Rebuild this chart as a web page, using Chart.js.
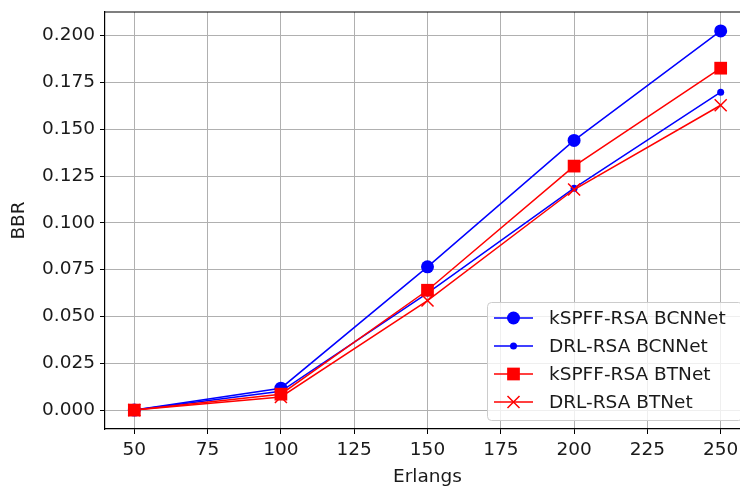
<!DOCTYPE html>
<html>
<head>
<meta charset="utf-8">
<script src="https://cdn.jsdelivr.net/npm/chart.js@4"></script>
<style>
html,body{margin:0;padding:0;overflow:hidden;background:#fff;}
#wrap{width:760px;height:488px;}
</style>
</head>
<body>
<div id="wrap"><canvas id="c" width="760" height="488"></canvas></div>
<script>
const erlangs = [50, 100, 150, 200, 250];
const kspffBCNNet = [0, 0.0117, 0.0765, 0.1440, 0.2025];
const drlBCNNet = [0, 0.0100, 0.0625, 0.1185, 0.1698];
const kspffBTNet = [0, 0.0085, 0.0640, 0.1303, 0.1826];
const drlBTNet = [0, 0.0070, 0.0585, 0.1178, 0.1628];
const seriesNames = ["kSPFF-RSA BCNNet", "DRL-RSA BCNNet", "kSPFF-RSA BTNet", "DRL-RSA BTNet"];
const xTickValues = [50, 75, 100, 125, 150, 175, 200, 225, 250];
const yTickValues = [0, 0.025, 0.05, 0.075, 0.1, 0.125, 0.15, 0.175, 0.2];

const FONT = "'DejaVu Sans', sans-serif";
const FS = 18.5;
const toPts = arr => arr.map((v, i) => ({x: erlangs[i], y: v}));

const styles = [
  {color: '#0000ff', pointStyle: 'circle', radius: 6.5},
  {color: '#0000ff', pointStyle: 'circle', radius: 3.5},
  {color: '#ff0000', pointStyle: 'rect', radius: 9},
  {color: '#ff0000', pointStyle: 'crossRot', radius: 8.5}
];
const seriesData = [kspffBCNNet, drlBCNNet, kspffBTNet, drlBTNet];

const datasets = seriesData.map((d, i) => ({
  label: seriesNames[i],
  data: toPts(d),
  borderColor: styles[i].color,
  backgroundColor: styles[i].color,
  pointBackgroundColor: styles[i].color,
  pointBorderColor: styles[i].color,
  pointStyle: styles[i].pointStyle,
  pointRadius: styles[i].radius,
  pointHoverRadius: styles[i].radius,
  pointBorderWidth: styles[i].pointStyle === 'crossRot' ? 1.5 : 0,
  borderWidth: 1.5,
  tension: 0,
  fill: false,
  order: 4 - i
}));

function drawMarker(ctx, st, x, y) {
  ctx.save();
  ctx.fillStyle = st.color;
  ctx.strokeStyle = st.color;
  if (st.pointStyle === 'circle') {
    ctx.beginPath(); ctx.arc(x, y, st.radius, 0, Math.PI * 2); ctx.fill();
  } else if (st.pointStyle === 'rect') {
    const s = Math.SQRT1_2 * st.radius;
    ctx.fillRect(x - s, y - s, 2 * s, 2 * s);
  } else {
    const o = Math.SQRT1_2 * st.radius;
    ctx.lineWidth = 1.5;
    ctx.beginPath();
    ctx.moveTo(x - o, y - o); ctx.lineTo(x + o, y + o);
    ctx.moveTo(x - o, y + o); ctx.lineTo(x + o, y - o);
    ctx.stroke();
  }
  ctx.restore();
}

const framePlugin = {
  id: 'frame',
  afterDatasetsDraw(chart) {
    const {ctx, chartArea: ca} = chart;
    ctx.save();
    ctx.strokeStyle = '#000';
    ctx.lineWidth = 1.2;
    ctx.beginPath();
    ctx.moveTo(ca.left, ca.top); ctx.lineTo(ca.right, ca.top);
    ctx.moveTo(ca.right, ca.top); ctx.lineTo(ca.right, ca.bottom);
    ctx.stroke();
    ctx.restore();
  },
  afterDraw(chart) {
    const {ctx, chartArea: ca} = chart;
    const w = 255, h = 118;
    const right = ca.right - 8, bottom = ca.bottom - 9;
    const left = right - w, top = bottom - h;
    ctx.save();
    ctx.beginPath();
    ctx.roundRect(left + 0.5, top + 0.5, w, h, 4);
    ctx.fillStyle = 'rgba(255,255,255,0.8)';
    ctx.fill();
    ctx.strokeStyle = '#cccccc';
    ctx.lineWidth = 1;
    ctx.stroke();
    ctx.font = FS + 'px ' + FONT;
    ctx.textBaseline = 'middle';
    ctx.textAlign = 'left';
    seriesNames.forEach((name, i) => {
      const y = top + 16 + i * 28;
      const st = styles[i];
      ctx.strokeStyle = st.color;
      ctx.lineWidth = 1.5;
      ctx.beginPath(); ctx.moveTo(left + 7, y); ctx.lineTo(left + 46, y); ctx.stroke();
      drawMarker(ctx, st, left + 26.5, y);
      ctx.fillStyle = '#1a1a1a';
      ctx.fillText(name, left + 62, y + 1);
    });
    ctx.restore();
  }
};

new Chart(document.getElementById('c'), {
  type: 'line',
  data: {datasets},
  plugins: [framePlugin],
  options: {
    responsive: false,
    animation: false,
    events: [],
    layout: {padding: {top: 12, right: 10, left: 0, bottom: 0}},
    plugins: {legend: {display: false}, tooltip: {enabled: false}},
    scales: {
      x: {
        type: 'linear',
        min: 40, max: 260,
        afterBuildTicks: s => { s.ticks = xTickValues.map(v => ({value: v})); },
        afterFit: s => { s.height = 59; s.paddingLeft = 0; s.paddingRight = 0; },
        ticks: {font: {family: FONT, size: FS}, color: '#1a1a1a', padding: 5, maxRotation: 0, autoSkip: false,
          callback: v => String(v)},
        grid: {color: '#b0b0b0', lineWidth: 1, tickColor: '#000', tickLength: 5},
        border: {color: '#000', width: 1.2},
        title: {display: true, text: 'Erlangs', font: {family: FONT, size: FS}, color: '#1a1a1a', padding: {top: 0, bottom: 0}}
      },
      y: {
        type: 'linear',
        min: -0.0101, max: 0.2126,
        afterBuildTicks: s => { s.ticks = yTickValues.map(v => ({value: v})); },
        afterFit: s => { s.width = 105; s.paddingTop = 0; s.paddingBottom = 0; },
        ticks: {font: {family: FONT, size: FS}, color: '#1a1a1a', padding: 5, autoSkip: false,
          callback: v => Number(v).toFixed(3)},
        grid: {color: '#b0b0b0', lineWidth: 1, tickColor: '#000', tickLength: 5},
        border: {color: '#000', width: 1.2},
        title: {display: true, text: 'BBR', font: {family: FONT, size: FS}, color: '#1a1a1a', padding: {top: 8, bottom: 0}}
      }
    }
  }
});
</script>
</body>
</html>
